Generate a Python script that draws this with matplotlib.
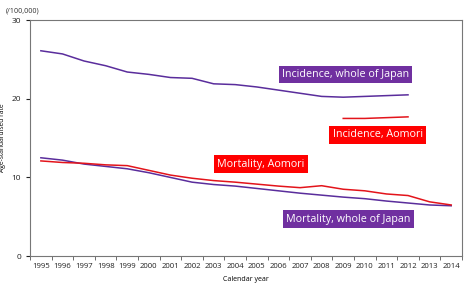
import numpy as np
import matplotlib.pyplot as plt

years = list(range(1995, 2015))
inc_japan = [26.1, 25.7, 24.8, 24.2, 23.4, 23.1, 22.7, 22.6, 21.9, 21.8,
             21.5, 21.1, 20.7, 20.3, 20.2, 20.3, 20.4, 20.5]
inc_aomori_years = [2009, 2010, 2011, 2012]
inc_aomori = [17.5, 17.5, 17.6, 17.7]
mort_japan = [12.5, 12.2, 11.7, 11.4, 11.1, 10.6, 10.0, 9.4, 9.1, 8.9,
              8.6, 8.3, 8.0, 7.75, 7.5, 7.3, 7.0, 6.75, 6.5, 6.4]
mort_aomori = [12.1, 11.9, 11.8, 11.6, 11.5, 10.9, 10.3, 9.9, 9.6, 9.4,
               9.15, 8.9, 8.7, 8.95, 8.5, 8.3, 7.9, 7.7, 6.9, 6.5]

purple = "#5a2d9c"
red = "#e3141b"
box_purple = "#7030a0"
box_red = "#ff0000"

plt.rcParams['font.family'] = ['Open Sans', 'DejaVu Sans']
fig = plt.figure(figsize=(4.7, 2.83), dpi=100)
ax = fig.add_axes([0.064, 0.095, 0.919, 0.834])

ax.plot(years[:len(inc_japan)], inc_japan, color=purple, lw=1.1)
ax.plot(inc_aomori_years, inc_aomori, color=red, lw=1.1)
ax.plot(years, mort_japan, color=purple, lw=1.1)
ax.plot(years, mort_aomori, color=red, lw=1.1)

ax.set_xlim(1994.5, 2014.5)
ax.set_ylim(0, 30)
ax.set_yticks([0, 10, 20, 30])
ax.set_xticks(years)
ax.set_xticks(np.arange(1994.5, 2015, 1), minor=True)
ax.tick_params(axis='x', which='major', length=0, labelsize=5.6, pad=5, colors='#222222')
ax.tick_params(axis='x', which='minor', length=3, color='#555555')
ax.tick_params(axis='y', length=3, labelsize=6, colors='#222222')
for s in ax.spines.values():
    s.set_color('#777777')
    s.set_linewidth(0.8)

ax.set_xlabel("Calendar year", fontsize=5, labelpad=4)
ax.set_ylabel("Age-standardised rate", fontsize=4.8, labelpad=4)
fig.text(0.012, 0.955, "(/100,000)", fontsize=5.2, color='#333333')

def label(x, y, s, c):
    ax.text(x, y, s, fontsize=7.75, color='white', ha='center', va='center',
            bbox=dict(boxstyle='square,pad=0.3', fc=c, ec='none'))

label(2009.1, 23.1, "Incidence, whole of Japan", box_purple)
label(2010.6, 15.4, "Incidence, Aomori", box_red)
label(2005.2, 11.7, "Mortality, Aomori", box_red)
label(2009.25, 4.7, "Mortality, whole of Japan", box_purple)

fig.savefig("out.png", dpi=100)
